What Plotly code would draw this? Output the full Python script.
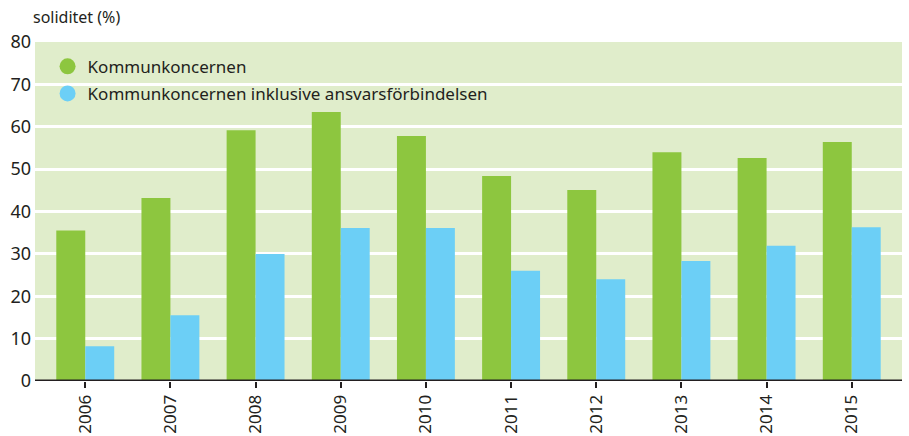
import plotly.graph_objects as go

years = ["2006", "2007", "2008", "2009", "2010", "2011", "2012", "2013", "2014", "2015"]
kommunkoncernen = [35.5, 43.2, 59.2, 63.5, 57.8, 48.4, 45.1, 54.0, 52.6, 56.4]
inkl_ansvar = [8.2, 15.5, 30.0, 36.1, 36.1, 26.0, 24.0, 28.3, 31.9, 36.3]
series_names = ["Kommunkoncernen", "Kommunkoncernen inklusive ansvarsförbindelsen"]
colors = ["#8dc63f", "#6ccff6"]
yticks = [0, 10, 20, 30, 40, 50, 60, 70, 80]

font = "Noto Sans"
fig = go.Figure()
for name, vals, c in zip(series_names, [kommunkoncernen, inkl_ansvar], colors):
    fig.add_trace(go.Bar(x=years, y=vals, name=name, marker=dict(color=c, line=dict(width=0)),
                         showlegend=False))
for i, (name, c) in enumerate(zip(series_names, colors)):
    fig.add_trace(go.Scatter(x=[None], y=[None], mode="markers", name=name, legendgroup=f"g{i}",
                             marker=dict(color=c, size=18, symbol="circle")))

fig.update_layout(
    width=909, height=436,
    margin=dict(l=35, r=7, t=42, b=55),
    paper_bgcolor="white", plot_bgcolor="#e0edcb",
    barmode="group", bargap=0.32, bargroupgap=0,
    font=dict(family=font, color="#231f20"),
    legend=dict(x=0.0145, y=0.98, xanchor="left", yanchor="top", bgcolor="rgba(0,0,0,0)",
                font=dict(size=17, family=font, color="#231f20"), tracegroupgap=2,
                traceorder="grouped", itemwidth=30),
    xaxis=dict(type="category", range=[-0.59, 9.59], showgrid=False, tickangle=-90,
               ticks="outside", ticklen=6, tickwidth=1.5, tickcolor="#231f20",
               tickfont=dict(size=17, family=font), showline=False, zeroline=False,
               automargin=False),
    yaxis=dict(range=[0, 80], tickvals=yticks, showgrid=True, gridcolor="white", gridwidth=3,
               zeroline=False, showline=False, tickfont=dict(size=18, family=font),
               ticks="", fixedrange=True, automargin=False, ticklabelstandoff=3),
    annotations=[dict(text="soliditet (%)", x=0, y=1, xref="paper", yref="paper",
                      xanchor="left", yanchor="bottom", yshift=12, xshift=-4, showarrow=False,
                      font=dict(size=16, family=font, color="#231f20"))],
    shapes=[dict(type="line", xref="paper", yref="y", x0=0, x1=1, y0=0, y1=0,
                 line=dict(color="#231f20", width=3))],
)
fig.write_html("out.html", post_script="document.body.style.margin='0';",
               config={"displayModeBar": False})
